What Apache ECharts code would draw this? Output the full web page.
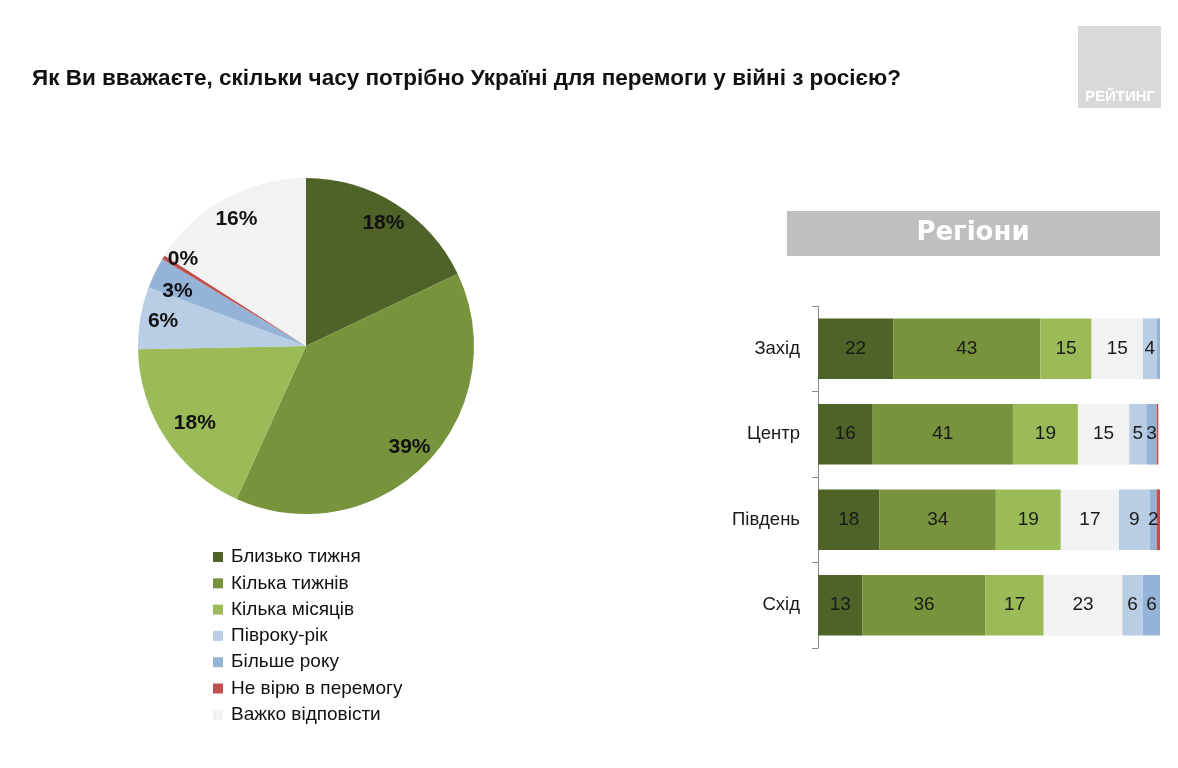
<!DOCTYPE html>
<html>
<head>
<meta charset="utf-8">
<script src="https://cdn.jsdelivr.net/npm/echarts@6/dist/echarts.min.js"></script>
<style>
html,body{margin:0;padding:0;background:#fff;}
#c{width:1178px;height:768px;}
</style>
</head>
<body>
<div id="c"></div>
<script>
// ---- data ----
const titleText = 'Як Ви вважаєте, скільки часу потрібно Україні для перемоги у війні з росією?';
const answerNames = ['Близько тижня','Кілька тижнів','Кілька місяців','Півроку-рік','Більше року','Не вірю в перемогу','Важко відповісти'];
const answerColors = ['#4f6228','#77933c','#9bbb59','#b9cde5','#95b3d7','#c0504d','#f2f2f2'];
const pieValues = [18, 39, 18, 6, 3, 0.4, 16];
const pieLabels = ['18%','39%','18%','6%','3%','0%','16%'];

const regions = ['Захід','Центр','Південь','Схід'];
const barClose   = [22, 16, 18, 13]; // Близько тижня
const barWeeks   = [43, 41, 34, 36]; // Кілька тижнів
const barMonths  = [15, 19, 19, 17]; // Кілька місяців
const barHard    = [15, 15, 17, 23]; // Важко відповісти
const barHalfYr  = [4, 5, 9, 6];     // Півроку-рік
const barYearPl  = [1, 3, 2, 6];     // Більше року
const barNoBelief= [0, 0.5, 1.5, 0]; // Не вірю в перемогу
const panelTitle = 'Регіони';
const logoText = 'РЕЙТИНГ';

// ---- chart ----
const chart = echarts.init(document.getElementById('c'), null, {renderer:'canvas'});
const FONT = "'Liberation Sans', Arial, sans-serif";

const barOrder = [
  {name:answerNames[0], data:barClose, color:answerColors[0]},
  {name:answerNames[1], data:barWeeks, color:answerColors[1]},
  {name:answerNames[2], data:barMonths, color:answerColors[2]},
  {name:answerNames[6], data:barHard, color:answerColors[6]},
  {name:answerNames[3], data:barHalfYr, color:answerColors[3]},
  {name:answerNames[4], data:barYearPl, color:answerColors[4]},
  {name:answerNames[5], data:barNoBelief, color:answerColors[5]}
];

const barSeries = barOrder.map(s => ({
  type:'bar', name:s.name, stack:'r', data:s.data, barWidth:'71%',
  itemStyle:{color:s.color},
  label:{show:true, position:'inside', color:'#1a1a1a', fontSize:19, fontFamily:FONT,
    formatter: p => p.value >= 2 ? String(p.value) : ''}
}));

// small label nudges (like the manual offsets of the original)
const labelNudge = {2:{dx:10, dy:-3}, 4:{dx:2, dy:8}, 5:{dx:0, dy:-10}};

const option = {
  animation:false,
  title:{text:titleText, left:27, top:62,
    textStyle:{fontSize:22.5, fontWeight:'bold', color:'#111', fontFamily:FONT}},
  legend:{
    data:answerNames, orient:'vertical', left:208, top:542,
    icon:'rect', itemWidth:10, itemHeight:10, itemGap:6.3,
    textStyle:{fontSize:19, color:'#111', fontFamily:FONT, lineHeight:20, padding:[0,0,0,3]},
    selectedMode:false
  },
  grid:{left:818, right:18, top:306, bottom:120},
  xAxis:{type:'value', min:0, max:100, show:false},
  yAxis:{type:'category', data:regions, inverse:true,
    axisLine:{show:true, lineStyle:{color:'#8a8a8a'}},
    axisTick:{show:true, length:6, lineStyle:{color:'#8a8a8a'}},
    axisLabel:{fontSize:18.5, color:'#1a1a1a', margin:18, fontFamily:FONT}},
  graphic:[
    {type:'rect', shape:{x:787, y:211, width:373, height:45}, style:{fill:'#bfbfbf'}},
    {type:'text', x:973, y:233, style:{text:panelTitle, fill:'#fff', font:"bold 26px 'DejaVu Sans', sans-serif", textAlign:'center', textVerticalAlign:'middle'}},
    {type:'rect', shape:{x:1078, y:26, width:83, height:82}, style:{fill:'#d9d9d9'}},
    {type:'text', x:1120, y:97, style:{text:logoText, fill:'#fff', font:"bold 15px 'Liberation Sans', sans-serif", textAlign:'center', textVerticalAlign:'middle'}}
  ],
  series:[
    {type:'pie', name:'pie', center:[306,346], radius:[0,168], startAngle:90,
      data:answerNames.map((n,i)=>({name:n, value:pieValues[i], itemStyle:{color:answerColors[i]}})),
      label:{show:false}, labelLine:{show:false}, emphasis:{disabled:true}},
    {type:'pie', name:'pieLabels', center:[306,346], radius:[116,168], startAngle:90, silent:true,
      avoidLabelOverlap:false, minShowLabelAngle:0,
      data:answerNames.map((n,i)=>({name:n, value:pieValues[i], itemStyle:{color:'rgba(0,0,0,0)'}})),
      label:{show:true, position:'inside', color:'#111', fontSize:21, fontWeight:'bold', fontFamily:FONT,
        overflow:'none', formatter: p => pieLabels[p.dataIndex]},
      labelLayout: p => Object.assign({hideOverlap:false}, labelNudge[p.dataIndex] || {}),
      labelLine:{show:false}, emphasis:{disabled:true}, legendHoverLink:false}
  ].concat(barSeries)
};
chart.setOption(option);
</script>
</body>
</html>
